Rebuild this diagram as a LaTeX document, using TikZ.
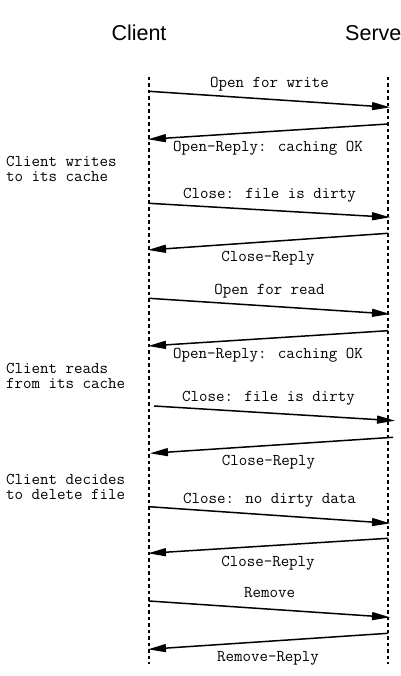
\documentclass[tikz,border=0pt]{standalone}
\usepackage{fontspec}
\usetikzlibrary{arrows.meta}
\newfontfamily\headfont{Liberation Sans}
\newcommand{\msgfont}{\fontsize{16.5}{14.7}\selectfont\ttfamily}

\begin{document}
\begin{tikzpicture}[
  x=1pt, y=-1pt,
  lifeline/.style={line width=1.3pt, dash pattern=on 3.5pt off 3pt},
  msg/.style={line width=1.5pt, -{Triangle[length=18pt, width=8pt]}},
  lblup/.style={midway, anchor=base, inner sep=0pt, yshift=12pt, font=\msgfont},
  lbldown/.style={midway, anchor=base, inner sep=0pt, yshift=-20.3pt, font=\msgfont},
  note/.style={anchor=north west, inner sep=0pt, align=left, font=\msgfont},
  head/.style={anchor=base, inner sep=0pt, font=\fontsize{21.5}{24}\selectfont\headfont}
]
\clip (0,0) rectangle (400,676);

% participants
\node[head] (client) at (139,41) {Client};
\node[head, anchor=base west] (server) at (345,41) {Server};

\coordinate (ctop) at (149,77);
\coordinate (cbot) at (149,664);
\coordinate (stop) at (388,77);
\coordinate (sbot) at (388,664);
\draw[lifeline] (ctop) -- (cbot);
\draw[lifeline] (stop) -- (sbot);

% notes on the client side
\node[note] (writes) at (6,156) {Client writes\\to its cache};
\node[note] (reads) at (6,363) {Client reads\\from its cache};
\node[note] (deletes) at (6,474) {Client decides\\to delete file};

% message end points
\coordinate (c1) at (149,91.3);  \coordinate (s1) at (390,107.3);
\coordinate (s2) at (388,124);   \coordinate (c2) at (148,139.3);
\coordinate (c3) at (149,203.3); \coordinate (s3) at (390,217.3);
\coordinate (s4) at (388,233.3); \coordinate (c4) at (148,250);
\coordinate (c5) at (149,298.3); \coordinate (s5) at (390,314);
\coordinate (s6) at (388,330.7); \coordinate (c6) at (148,346);
\coordinate (c7) at (154,406);   \coordinate (s7) at (395,420.7);
\coordinate (s8) at (393,437.3); \coordinate (c8) at (150,453.3);
\coordinate (c9) at (149,506.7); \coordinate (s9) at (390,523.3);
\coordinate (s10) at (388,538.3); \coordinate (c10) at (148,553.3);
\coordinate (c11) at (149,601);   \coordinate (s11) at (390,617.3);
\coordinate (s12) at (388,633.3); \coordinate (c12) at (148,649.3);

% messages
\draw[msg] (c1) -- (s1) node[lblup] {Open for write};
\draw[msg] (s2) -- (c2) node[lbldown] {Open-Reply: caching OK};
\draw[msg] (c3) -- (s3) node[lblup] {Close: file is dirty};
\draw[msg] (s4) -- (c4) node[lbldown] {Close-Reply};
\draw[msg] (c5) -- (s5) node[lblup] {Open for read};
\draw[msg] (s6) -- (c6) node[lbldown] {Open-Reply: caching OK};
\draw[msg] (c7) -- (s7) node[lblup, xshift=-6pt] {Close: file is dirty};
\draw[msg] (s8) -- (c8) node[lbldown, xshift=-3pt] {Close-Reply};
\draw[msg] (c9) -- (s9) node[lblup] {Close: no dirty data};
\draw[msg] (s10) -- (c10) node[lbldown] {Close-Reply};
\draw[msg] (c11) -- (s11) node[lblup] {Remove};
\draw[msg] (s12) -- (c12) node[lbldown] {Remove-Reply};
\end{tikzpicture}
\end{document}
